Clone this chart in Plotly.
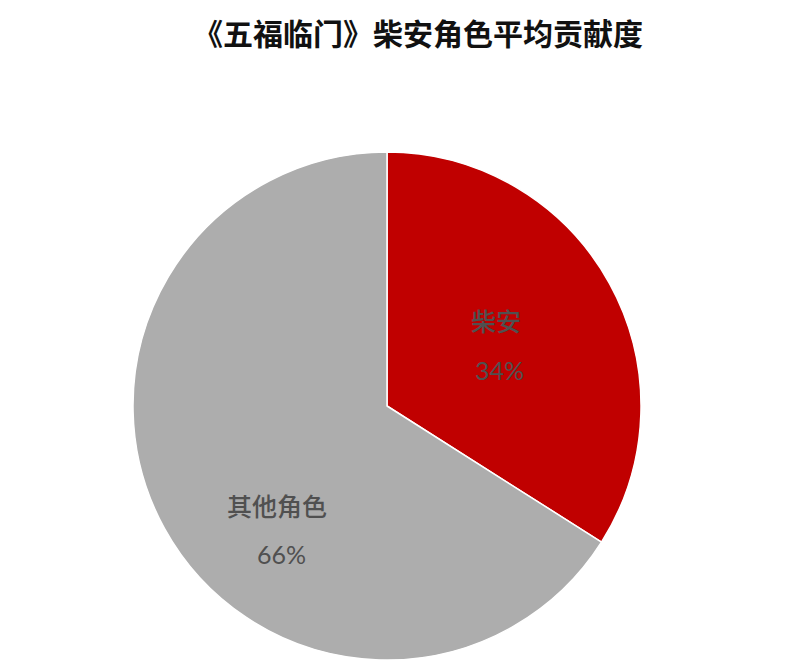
import plotly.graph_objects as go

labels = ["柴安", "其他角色"]
values = [34, 66]
colors = ["#C00000", "#ADADAD"]
title_text = "《五福临门》柴安角色平均贡献度"

W, H = 800, 665
OFF = 8  # page body margin in the browser
# label anchor positions in reference pixels (name line, percent line)
label_pos = [(496, 320, 499, 370), (277, 505, 281, 554)]


def px_x(x):
    return (x - OFF) / W


def px_y(y):
    return 1 - (y - OFF) / H


fig = go.Figure(go.Pie(
    labels=labels,
    values=values,
    sort=False,
    direction="clockwise",
    rotation=0,
    marker=dict(colors=colors, line=dict(color="white", width=1.5)),
    textinfo="none",
    hoverinfo="label+percent",
    domain=dict(x=[px_x(133), px_x(641)], y=[px_y(660), px_y(152)]),
    showlegend=False,
))

total = sum(values)
font = "Noto Sans CJK SC, Noto Sans, sans-serif"
for name, v, (nx, ny, px_, py) in zip(labels, values, label_pos):
    fig.add_annotation(x=px_x(nx), y=px_y(ny), xref="paper", yref="paper",
                       xanchor="center", yanchor="middle",
                       text=name, showarrow=False,
                       font=dict(family=font, size=25, color="#505050", weight=500))
    fig.add_annotation(x=px_x(px_), y=px_y(py), xref="paper", yref="paper",
                       xanchor="center", yanchor="middle",
                       text=f"{v / total:.0%}", showarrow=False,
                       font=dict(family="Lato, " + font, size=25, color="#505050"))

fig.add_annotation(x=px_x(418), y=px_y(32), xref="paper", yref="paper",
                   xanchor="center", yanchor="middle", borderpad=0,
                   text=f"<b>{title_text}</b>", showarrow=False,
                   font=dict(family=font, size=30, color="#111111"))

fig.update_layout(
    width=W, height=H,
    margin=dict(l=0, r=0, t=0, b=0),
    paper_bgcolor="white",
    plot_bgcolor="white",
)

fig.write_html("out.html")
